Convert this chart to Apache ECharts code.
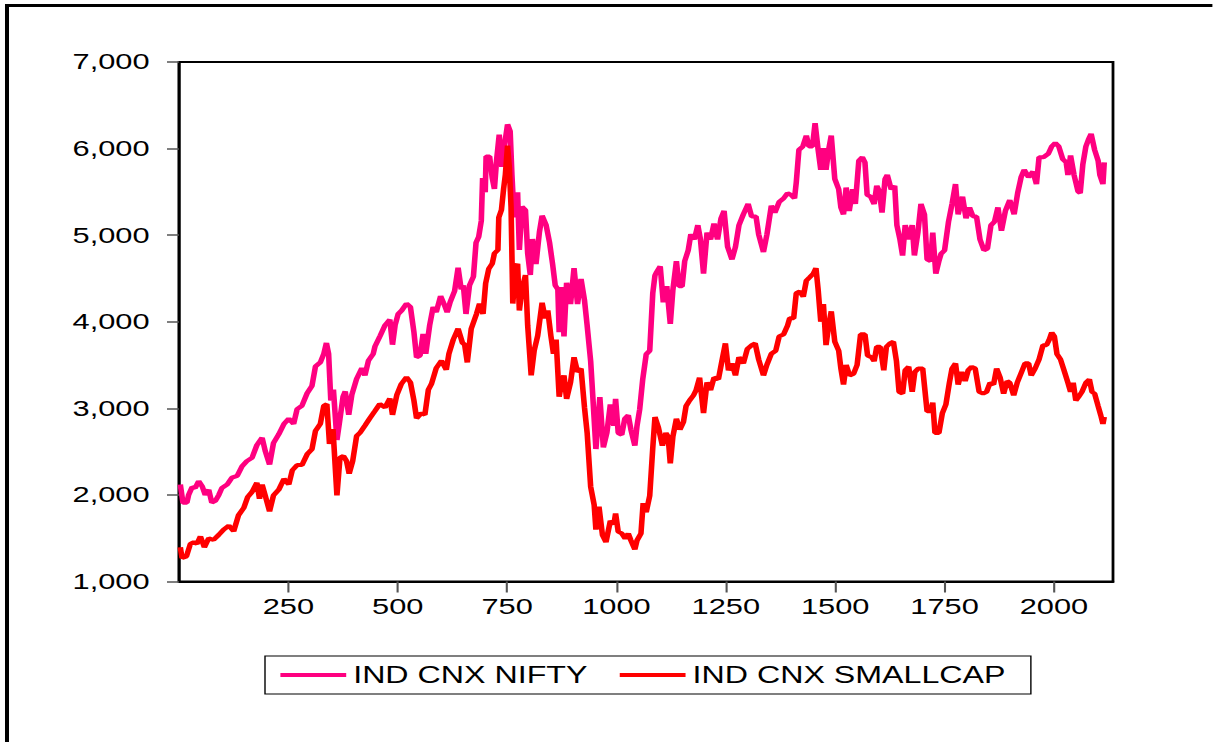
<!DOCTYPE html>
<html>
<head>
<meta charset="utf-8">
<script src="https://cdn.jsdelivr.net/npm/echarts@6/dist/echarts.min.js"></script>
<style>
html,body{margin:0;padding:0;background:#fff;overflow:hidden;}
#wrap{width:1213px;height:742px;overflow:hidden;position:relative;}
#chart{width:866.43px;height:742px;transform:scaleX(1.4);transform-origin:0 0;}
</style>
</head>
<body>
<div id="wrap"><div id="chart"></div></div>
<script>
// ---- data ----
const seriesNames = ['IND CNX NIFTY', 'IND CNX SMALLCAP'];
const xTickValues = [250, 500, 750, 1000, 1250, 1500, 1750, 2000];
const yTickValues = [1000, 2000, 3000, 4000, 5000, 6000, 7000];

const niftyIdx = [3,9,18,22,30,37,45,53,60,68,75,83,91,98,110,121,133,144,155,167,178,190,197,207,216,228,240,251,262,270,281,293,304,312,323,331,337,342,347,353,361,367,375,380,388,395,406,418,425,433,444,448,460,471,482,488,494,501,509,520,529,537,543,551,558,564,573,581,588,598,607,613,620,630,638,645,650,656,664,673,679,685,691,694,700,702,710,716,721,726,732,738,744,751,757,761,766,774,778,784,792,797,803,808,816,824,830,839,847,854,860,866,869,875,880,886,895,903,911,919,927,933,941,947,953,962,970,978,986,994,998,1004,1012,1019,1027,1033,1042,1047,1053,1060,1068,1076,1083,1088,1092,1100,1107,1115,1123,1129,1137,1143,1150,1156,1164,1170,1178,1186,1192,1199,1207,1215,1223,1231,1239,1246,1254,1264,1272,1280,1290,1301,1309,1319,1325,1336,1344,1354,1362,1372,1382,1391,1399,1407,1411,1417,1426,1434,1440,1448,1454,1461,1467,1473,1479,1485,1491,1499,1508,1513,1519,1525,1532,1540,1546,1554,1562,1568,1573,1581,1589,1595,1601,1607,1614,1619,1628,1636,1641,1648,1654,1660,1668,1676,1681,1689,1696,1704,1710,1718,1723,1730,1737,1742,1750,1759,1767,1775,1781,1791,1799,1807,1815,1823,1831,1840,1848,1856,1864,1872,1880,1889,1899,1909,1917,1925,1932,1942,1952,1960,1966,1976,1987,1995,2003,2011,2020,2028,2032,2038,2046,2055,2060,2066,2073,2079,2085,2093,2101,2105,2112,2115];
const niftyVal = [2120,1910,1910,2000,2090,2080,2160,2100,2000,2060,1910,1930,2000,2080,2120,2200,2220,2330,2390,2430,2575,2660,2510,2350,2600,2700,2820,2880,2820,2990,3030,3175,3260,3485,3530,3630,3755,3630,3090,3215,2635,2845,3135,3195,2925,3155,3340,3465,3380,3550,3630,3715,3840,3960,4025,3735,3960,4090,4130,4210,4170,3880,3590,3610,3860,3630,3960,4170,4110,4295,4190,4110,4230,4355,4625,4375,4420,4090,4420,4520,4915,4980,5165,5660,5495,5910,5910,5660,5535,5870,6160,5790,6035,6280,6200,5700,5205,5495,4830,5330,5290,4790,4540,4955,4665,5040,5225,5120,4915,4665,4420,4375,3880,4400,3830,4450,4205,4620,4205,4495,4245,3955,3545,3045,2530,3130,2550,2715,3045,2800,3110,2715,2695,2880,2920,2755,2570,2800,2985,3335,3625,3665,4330,4535,4575,4640,4225,4410,3975,4370,4700,4410,4410,4700,4825,5010,4950,5115,4950,4555,5030,4950,5135,4950,5195,5280,4865,4720,4865,5115,5240,5360,5215,5215,5010,4805,5010,5340,5260,5385,5425,5485,5465,5425,5610,5985,6025,6150,6025,6025,6295,5985,5755,6005,5755,5985,6150,5650,5530,5320,5240,5550,5280,5530,5360,5860,5900,5840,5465,5445,5360,5570,5505,5260,5650,5695,5530,5570,5115,4950,4765,5115,4950,5115,4765,5030,5360,5240,4720,4700,5030,4555,4700,4785,4825,5155,5360,5590,5240,5445,5195,5320,5215,5215,4950,4825,4845,5115,5155,5320,5050,5280,5405,5240,5485,5670,5755,5670,5735,5590,5900,5900,5940,6025,6065,6025,5880,5840,5695,5920,5695,5505,5485,5815,6025,6105,6170,5985,5860,5695,5590,5840];

const smallIdx = [3,7,17,26,34,41,49,58,68,79,91,102,114,125,136,148,157,167,178,184,190,197,207,216,228,240,251,259,270,281,293,304,312,323,331,338,344,352,361,368,376,383,389,397,406,414,425,436,448,459,471,482,488,498,508,520,529,537,543,554,562,570,577,588,600,611,617,627,638,648,653,659,668,680,687,695,701,708,716,721,729,731,737,742,746,751,755,759,763,769,774,778,784,792,797,805,812,820,830,837,843,850,856,862,869,875,880,886,895,903,911,919,927,933,941,949,953,960,968,976,986,994,998,1004,1012,1020,1027,1033,1042,1047,1056,1061,1068,1076,1083,1088,1096,1105,1113,1118,1123,1129,1137,1145,1153,1159,1167,1176,1182,1190,1199,1207,1215,1223,1233,1241,1249,1256,1264,1272,1280,1290,1299,1309,1317,1325,1336,1344,1354,1364,1372,1382,1391,1396,1405,1411,1419,1427,1434,1442,1450,1456,1461,1467,1473,1479,1485,1491,1499,1508,1513,1519,1525,1533,1542,1550,1558,1568,1574,1583,1589,1595,1603,1611,1617,1625,1633,1640,1646,1654,1660,1668,1676,1682,1690,1700,1710,1718,1723,1728,1737,1745,1753,1761,1767,1775,1781,1789,1797,1804,1812,1820,1829,1838,1846,1854,1862,1869,1877,1885,1893,1899,1908,1916,1926,1934,1942,1948,1957,1966,1975,1983,1989,1995,2001,2007,2015,2023,2032,2038,2044,2050,2056,2064,2073,2081,2087,2093,2101,2107,2112,2115];
const smallVal = [1395,1270,1290,1435,1455,1435,1520,1395,1500,1480,1540,1600,1645,1580,1765,1850,1975,2035,2140,1955,2120,1995,1810,1995,2060,2185,2120,2285,2345,2345,2470,2530,2740,2820,3030,3050,2590,2760,1995,2430,2450,2390,2245,2390,2680,2720,2800,2885,2970,3050,3010,3115,2925,3155,3280,3360,3300,3090,2885,2945,2925,3215,3280,3465,3550,3445,3630,3795,3920,3755,3735,3530,3920,4090,4210,4090,4445,4610,4670,4790,4830,5205,5290,5535,5700,6035,5790,5330,4210,4625,4670,4130,4375,4540,3960,3380,3670,3840,4220,4040,4130,3840,3630,3795,3135,3300,3380,3110,3300,3590,3420,3460,3005,2715,2095,1885,1600,1865,1535,1455,1700,1660,1785,1575,1555,1495,1555,1475,1370,1475,1555,1905,1800,1990,2545,2900,2775,2570,2715,2675,2365,2675,2880,2755,2840,3025,3090,3150,3210,3355,2945,3300,3210,3355,3335,3545,3750,3440,3520,3380,3590,3520,3685,3730,3750,3565,3380,3505,3630,3665,3830,3855,3955,4040,4040,4330,4350,4290,4475,4515,4555,4620,4370,4000,4205,3730,3955,4120,3770,3665,3460,3275,3500,3380,3400,3500,3855,3855,3610,3590,3545,3710,3710,3440,3710,3750,3770,3545,3190,3170,3440,3480,3190,3420,3460,3460,2965,2965,3065,2715,2715,2945,3045,3295,3460,3520,3275,3420,3315,3440,3480,3460,3190,3170,3190,3295,3275,3460,3355,3170,3315,3295,3150,3295,3420,3520,3520,3380,3460,3565,3730,3730,3790,3875,3830,3625,3565,3440,3295,3190,3295,3090,3130,3190,3295,3335,3190,3170,3025,2920,2820,2900];

// ---- chart ----
const zip = (a, b) => a.map((v, i) => [v, b[i]]);
const fmtComma = v => String(v).replace(/\B(?=(\d{3})+(?!\d))/g, ',');
const fmtPlain = v => String(v);
const S = 1.4; // horizontal stretch of the reference rendering
const FONT = '"Liberation Sans", Arial, Helvetica, sans-serif';

const chart = echarts.init(document.getElementById('chart'), null, {renderer: 'svg'});
chart.setOption({
  animation: false,
  backgroundColor: '#fff',
  graphic: [
    {type: 'rect', silent: true, shape: {x: 5 / S, y: 4, width: 1213 / S, height: 3}, style: {fill: '#000'}},
    {type: 'rect', silent: true, shape: {x: 5 / S, y: 4, width: 4 / S, height: 740}, style: {fill: '#000'}}
  ],
  grid: {
    left: 179 / S, top: 62, width: (1113 - 179) / S, height: 519.5,
    show: true, borderColor: '#000', borderWidth: 2, backgroundColor: 'transparent'
  },
  legend: {
    left: 265 / S, top: 656,
    orient: 'horizontal',
    icon: 'rect', itemWidth: 47, itemHeight: 4, itemGap: 23,
    padding: [7.5, 18, 7.5, 11],
    borderColor: '#000', borderWidth: 1,
    textStyle: {fontFamily: FONT, fontSize: 23, color: '#000'},
    data: seriesNames
  },
  xAxis: {
    type: 'value', min: 0, max: 2135,
    axisLine: {show: true, lineStyle: {color: '#000', width: 2}},
    axisTick: {show: true, inside: false, length: 11, customValues: xTickValues, lineStyle: {color: '#555', width: 1.5}},
    axisLabel: {customValues: xTickValues, margin: 14, fontFamily: FONT, fontSize: 22, color: '#000', formatter: fmtPlain},
    splitLine: {show: false}
  },
  yAxis: {
    type: 'value', min: 1000, max: 7000, interval: 1000,
    axisLine: {show: true, lineStyle: {color: '#000', width: 2}},
    axisTick: {show: true, inside: false, length: 12 / S, customValues: yTickValues, lineStyle: {color: '#555', width: 1.5}},
    axisLabel: {customValues: yTickValues, margin: 21, fontFamily: FONT, fontSize: 22, color: '#000', formatter: fmtComma},
    splitLine: {show: false}
  },
  series: [
    {name: seriesNames[0], type: 'line', data: zip(niftyIdx, niftyVal), showSymbol: false, symbol: 'none',
     lineStyle: {color: '#ff0080', width: 4}, itemStyle: {color: '#ff0080'}},
    {name: seriesNames[1], type: 'line', data: zip(smallIdx, smallVal), showSymbol: false, symbol: 'none',
     lineStyle: {color: '#ff0000', width: 4}, itemStyle: {color: '#ff0000'}}
  ]
});
</script>
</body>
</html>
